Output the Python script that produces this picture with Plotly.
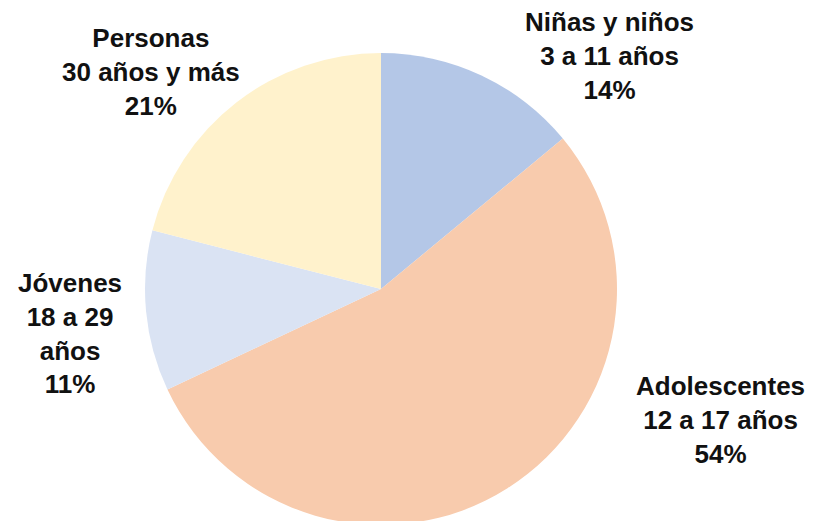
import plotly.graph_objects as go

categories = ["Niñas y niños<br>3 a 11 años", "Adolescentes<br>12 a 17 años",
              "Jóvenes<br>18 a 29<br>años", "Personas<br>30 años y más"]
values = [14, 54, 11, 21]
colors = ["#b4c7e7", "#f8cbad", "#dae3f3", "#fff2cc"]

# page body adds an 8px offset; figure coords = window coords - 8
OFF = 8
W, H = 816, 530
# label block centres in window pixels
label_px = [(609, 56), (720, 420), (70, 333), (151, 72)]
label_pos = [((x - OFF) / W, 1 - (y - OFF) / H) for x, y in label_px]

cx, cy, r = 381 - OFF, 289 - OFF, 236
fig = go.Figure(go.Pie(
    labels=[c.replace("<br>", " ") for c in categories],
    values=values,
    marker=dict(colors=colors, line=dict(width=0)),
    sort=False,
    direction="clockwise",
    rotation=0,
    textinfo="none",
    hoverinfo="label+percent",
    domain=dict(x=[(cx - r) / W, (cx + r) / W], y=[1 - (cy + r) / H, 1 - (cy - r) / H]),
    showlegend=False,
))

for cat, val, (x, y) in zip(categories, values, label_pos):
    fig.add_annotation(
        x=x, y=y, xref="paper", yref="paper",
        xanchor="center", yanchor="middle",
        text=f"<b>{cat}<br>{val}%</b>",
        showarrow=False, align="center",
        font=dict(family="Liberation Sans, Arial, sans-serif", size=26, color="#111111"),
    )

fig.update_layout(
    width=W, height=H,
    margin=dict(l=0, r=0, t=0, b=0),
    paper_bgcolor="white", plot_bgcolor="white",
)

fig.write_html("out.html")
